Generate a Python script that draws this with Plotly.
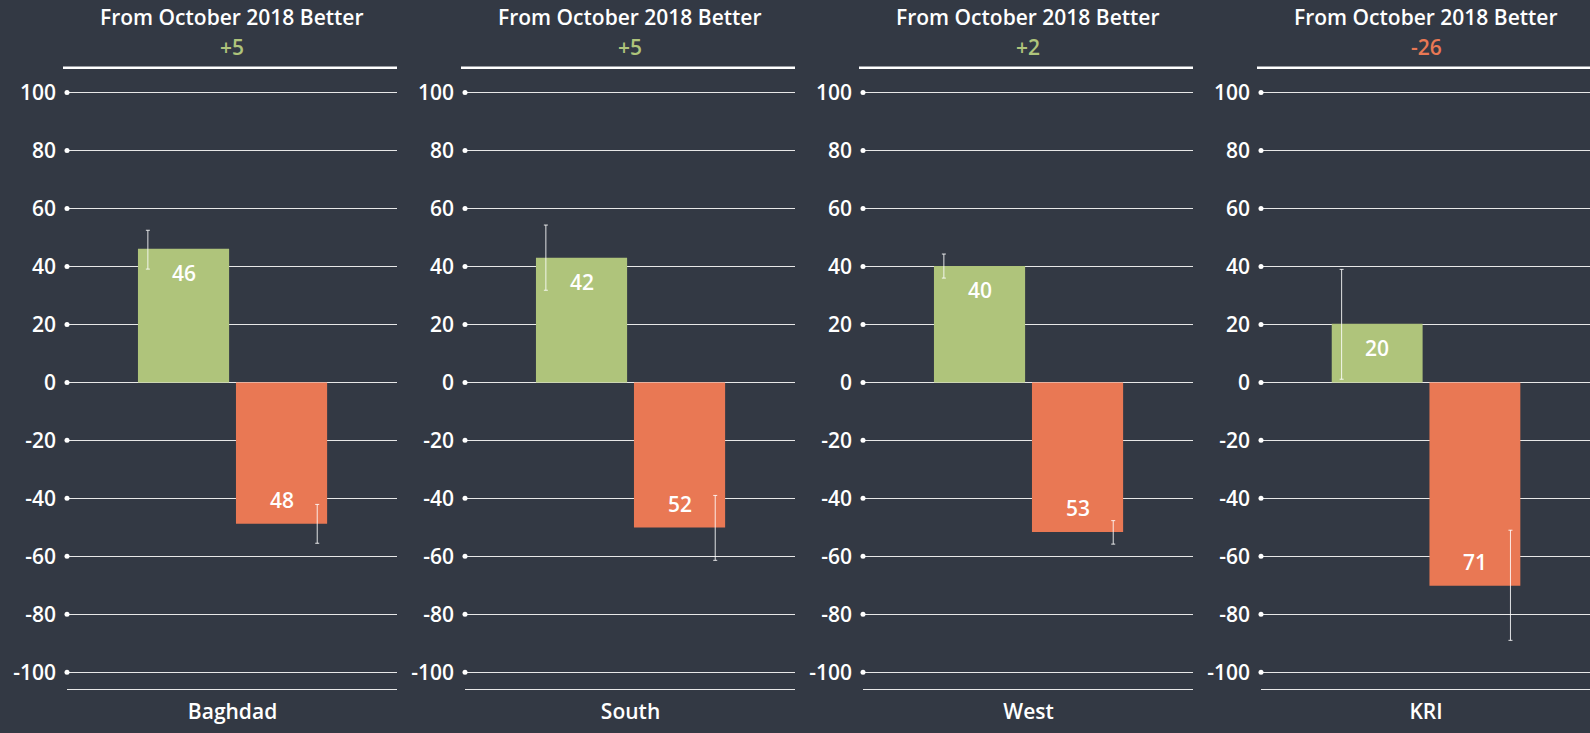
import plotly.graph_objects as go

regions = ["Baghdad", "South", "West", "KRI"]
change_labels = ["+5", "+5", "+2", "-26"]
better = [46.1, 43.0, 40.2, 20.2]
worse = [-48.8, -50.1, -51.6, -70.2]
better_labels = ["46", "42", "40", "20"]
worse_labels = ["48", "52", "53", "71"]
better_lo = [39.1, 31.8, 36.0, 1.1]
better_hi = [52.5, 54.3, 44.3, 39.0]
worse_lo = [-55.5, -61.4, -55.8, -89.0]
worse_hi = [-42.1, -39.0, -47.7, -51.0]
y_ticks = [100, 80, 60, 40, 20, 0, -20, -40, -60, -80, -100]
header = "From October 2018 Better"

BG = "#333944"
GREEN = "#afc47b"
RED = "#e97854"
FONT = "Open Sans"
FS = 21
W, H = 1590, 733

# panel layout in pixels
panel_left = [67, 465, 863, 1261]
panel_w = 330
plot_top, plot_bottom = 67.7, 689.3
y_range = [-105.9, 108.6]
x_range = [-1.189, 2.178]
err_off = 0.364

fig = go.Figure()

for i, name in enumerate(regions):
    n = i + 1
    xa = "x" if n == 1 else f"x{n}"
    ya = "y" if n == 1 else f"y{n}"
    fig.add_trace(go.Bar(x=[0], y=[better[i]], width=0.93, marker_color=GREEN,
                         marker_line_width=0, xaxis=xa, yaxis=ya, hoverinfo="skip"))
    fig.add_trace(go.Bar(x=[1], y=[worse[i]], width=0.93, marker_color=RED,
                         marker_line_width=0, xaxis=xa, yaxis=ya, hoverinfo="skip"))
    # error bars
    for xc, lo, hi in [(0 - err_off, better_lo[i], better_hi[i]),
                       (1 + err_off, worse_lo[i], worse_hi[i])]:
        fig.add_trace(go.Scatter(
            x=[xc], y=[(lo + hi) / 2], mode="markers",
            marker=dict(size=1, opacity=0),
            error_y=dict(type="data", array=[(hi - lo) / 2], color="rgba(255,255,255,0.85)",
                         thickness=1, width=2),
            xaxis=xa, yaxis=ya, hoverinfo="skip"))
    # tick dots
    fig.add_trace(go.Scatter(
        x=[x_range[0]] * len(y_ticks), y=y_ticks, mode="markers",
        marker=dict(size=5, color="white"), cliponaxis=False,
        xaxis=xa, yaxis=ya, hoverinfo="skip"))

    d0 = panel_left[i] / W
    d1 = min((panel_left[i] + panel_w) / W, 1.0)
    dom_y = [1 - plot_bottom / H, 1 - plot_top / H]
    fig.update_layout({
        ("xaxis" if n == 1 else f"xaxis{n}"): dict(
            domain=[d0, d1], range=x_range, tickvals=[0.5], ticktext=[name],
            showgrid=False, zeroline=False, showline=True, linecolor="#e8e8e8",
            linewidth=1, ticks="", ticklabelstandoff=3, anchor=ya,
            tickfont=dict(family=FONT, size=FS, color="white", weight=600), fixedrange=True),
        ("yaxis" if n == 1 else f"yaxis{n}"): dict(
            domain=dom_y, range=y_range, tickvals=y_ticks, ticktext=[str(v) for v in y_ticks],
            showgrid=True, gridcolor="#e8e8e8", gridwidth=1, zeroline=False, showline=False,
            ticks="", ticklabelstandoff=10, anchor=xa,
            tickfont=dict(family=FONT, size=FS, color="white", weight=600), fixedrange=True),
    })

    # bar value labels
    fig.add_annotation(x=0, y=better[i], xref=xa, yref=ya, text=better_labels[i],
                       showarrow=False, yshift=-24,
                       font=dict(family=FONT, size=FS, color="white", weight=600))
    fig.add_annotation(x=1, y=worse[i], xref=xa, yref=ya, text=worse_labels[i],
                       showarrow=False, yshift=24,
                       font=dict(family=FONT, size=FS, color="white", weight=600))

    # headers
    cx = (panel_left[i] + panel_w / 2) / W
    fig.add_annotation(x=cx, y=1 - 16.7 / H, xref="paper", yref="paper", text=header,
                       showarrow=False, xanchor="center", yanchor="middle",
                       font=dict(family=FONT, size=FS, color="white", weight=600))
    fig.add_annotation(x=cx, y=1 - 46.7 / H, xref="paper", yref="paper", text=change_labels[i],
                       showarrow=False, xanchor="center", yanchor="middle",
                       font=dict(family=FONT, size=FS,
                                 color=GREEN if not change_labels[i].startswith("-") else RED,
                                 weight=600))
    # top rule
    fig.add_shape(type="line", xref="paper", yref="paper",
                  x0=(panel_left[i] - 4) / W, x1=min((panel_left[i] + panel_w) / W, 1.0),
                  y0=1 - plot_top / H, y1=1 - plot_top / H,
                  line=dict(color="white", width=2.5))

fig.update_layout(
    width=W, height=H, paper_bgcolor=BG, plot_bgcolor=BG,
    margin=dict(l=0, r=0, t=0, b=0), showlegend=False, barmode="overlay",
)

fig.write_html("out.html", config={"displayModeBar": False},
               post_script="document.body.style.margin='0';"
                           "document.body.style.background='" + BG + "';")
